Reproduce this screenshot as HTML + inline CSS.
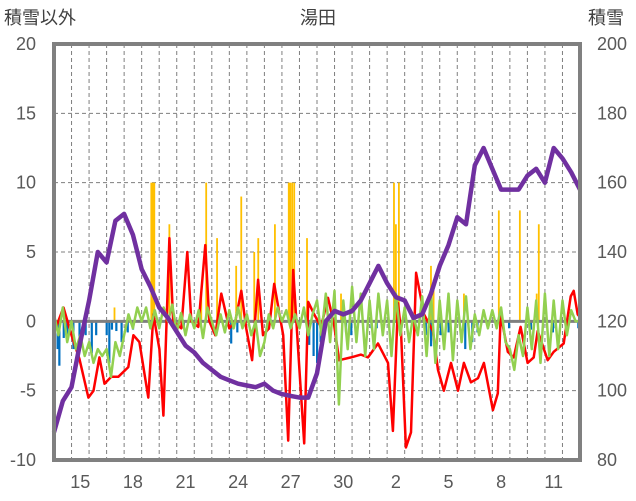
<!DOCTYPE html>
<html><head><meta charset="utf-8">
<style>
html,body{margin:0;padding:0;background:#fff;}
svg{display:block;font-family:"Liberation Sans","Noto Sans CJK JP",sans-serif;}
</style></head>
<body>
<svg id="chart" width="636" height="501" xmlns="http://www.w3.org/2000/svg">
<text x="318" y="24" font-size="18" text-anchor="middle" fill="#404040">湯田</text>
<text x="4" y="24" font-size="18" fill="#404040">積雪以外</text>
<text x="588" y="24" font-size="18" fill="#404040">積雪</text>
<g id="grid"></g><g id="bars"></g><g id="lines"></g><g id="axes"></g>
</svg>
<script>
const xLabels=["15","18","21","24","27","30","2","5","8","11"];
const xLabelDays=[1,4,7,10,13,16,19,22,25,28];
const leftTicks=[20,15,10,5,0,-5,-10];
const rightTicks=[200,180,160,140,120,100,80];
const snowDepth=[88,97,101,114,126,140,137,149,151,145,135,130,124,121,117,113,111,108,106,104,103,102,101.5,101,102,100,99,98.5,98,98,105,120,123,122,123,126,131,136,131,127,126,121,122,128,136,142,150,148,165,170,164,158,158,158,162,164,160,170,167,163,158];
const redT=[0.09,0.54,1.0,1.45,1.96,2.25,2.59,2.88,3.27,3.67,4.24,4.53,4.87,5.38,5.67,6.01,6.24,6.58,6.8,7.26,7.6,7.83,8.23,8.63,8.86,9.2,9.54,10.0,10.34,10.68,10.96,11.3,11.64,11.92,12.26,12.56,13.07,13.36,13.64,13.92,14.27,14.5,14.84,15.23,15.63,15.97,16.26,16.94,17.51,17.91,18.48,19.05,19.33,19.62,19.79,20.07,20.36,20.65,21.1,21.61,21.9,22.24,22.64,23.04,23.38,23.78,24.18,24.52,25.03,25.31,25.48,25.88,26.22,26.61,27.01,27.36,27.59,28.16,28.5,29.07,29.47,29.64,29.87,30];
const redV=[-0.5,1,-1,-2.7,-5.5,-5,-2.6,-4.5,-4,-4,-3.3,-1,-1.5,-5.5,0.5,-2,-6.8,6,0,-0.5,5,0,-0.4,5.5,0,-1,2,-0.5,0,2.2,-0.5,-2.8,3,-1,-0.5,2.7,-1,-8.6,3.7,-2,-8.8,1.4,0.5,-0.4,1.7,-0.2,-2.8,-2.6,-2.4,-2.6,-1.6,-3,-7.9,1.3,-0.7,-9.1,-8,3.5,0.5,-0.7,-3.5,-5,-3,-5,-3,-4.4,-4.1,-3,-6.4,-5.2,0.5,-2.2,-2.6,-0.4,-3,-2.6,-0.7,-2.8,-2.2,-1.6,1.8,2.2,0.5,0.3];
const greenV=[0.5,-1,1,-1.5, 0,-2,-1,-2.5, -1.5,-3,-2,-2.5, -2,-4,-1.5,-2.5, -1,0.5,-0.5,1, 0,1,-0.5,0.8, -0.5,1,0,1.2, -0.8,0.6,-1,0.5, -0.5,0.8,-1.2,1, 0,-1,0.5,-0.8, 0.8,-0.5,1,-0.5, 0.5,-1,0,-2.5, -1.5,0.5,-0.5,1, 0,0.8,-0.5,0.5, -0.5,1,-1,0.5, 1.5,-1,2,-1.5, 2.2,-6,1.5,-2, 2.5,-1.5,2,-2.5, 1.5,-2,2,-1, 1.5,-2.5,2,-1, 1,-1.5,0.5,-1, 1.8,-2.5,2,-3, 1.5,-2,2,-2.8, 1.5,-1.5,1.8,-2, 0.5,-1,0.8,-0.5, 0.8,-0.5,1,-1.5, -2,-3.5,-1,-2.5, 1,-2,1.5,-3, 2,-2.5,1.5,-2, 1.5,-1,0.8,0, 0];
const blueT=[0.2,0.3,0.55,0.75,1.1,1.45,1.8,2.15,2.4,3.0,3.15,3.3,3.55,3.85,4.2,4.5,7.4,10.1,10.45,12.25,14.55,14.8,15.0,15.2,16.65,16.95,18.1,18.4,21.2,21.5,22.05,22.5,23.45,23.85,24.15,25.95,27.2,28.45,28.6,29.9];
const blueV=[-2,-3.2,-1.2,-1.5,-2,-1.5,-1,-2.3,-1,-1,-3,-0.6,-0.7,-1.5,-0.8,-0.6,-0.5,-1.6,-0.8,-0.6,-1.7,-2.5,-3,-1.5,-0.8,-1,-0.5,-0.5,-1,-1.8,-1,-0.8,-2,-1.5,-0.8,-0.5,-0.6,-0.8,-0.5,-0.5];
const orangeT=[3.45,5.55,5.64,5.72,6.58,8.4,8.68,9.3,10.39,10.68,11.42,11.65,12.6,13.39,13.47,13.58,13.7,14.43,16.37,19.39,19.5,19.67,21.5,21.65,23.38,25.37,26.57,27.53,27.65];
const orangeV=[1,10,10,10,7,2,10,6,4,9,5,6,7,10,10,10,10,6,2,10,7,10,4,3,2,8,8,2,7];

const X0=54,X1=580,Y0=44,Y1=460,DAYS=30;
const NS="http://www.w3.org/2000/svg";
function xs(t){return X0+(X1-X0)*t/DAYS;}
function yl(v){return Y1-(v+10)*(Y1-Y0)/30;}
function yr(v){return Y1-(v-80)*(Y1-Y0)/120;}
function mk(tag,attrs,parent){const e=document.createElementNS(NS,tag);for(const k in attrs)e.setAttribute(k,attrs[k]);parent.appendChild(e);return e;}
const grid=document.getElementById('grid'),bars=document.getElementById('bars'),lines=document.getElementById('lines'),axes=document.getElementById('axes');
for(let d=1;d<DAYS;d++){const l=mk('line',{x1:xs(d),x2:xs(d),y1:Y0,y2:Y1,stroke:'#7f7f7f','stroke-width':1,'stroke-dasharray':'4,3'},grid);

}
leftTicks.forEach(v=>{if(v!==0&&v!==20&&v!==-10){const l=mk('line',{x1:X0,x2:X1,y1:yl(v),y2:yl(v),stroke:'#7f7f7f','stroke-width':1,'stroke-dasharray':'4,3'},grid);

}});
orangeT.forEach((t,i)=>{const r=mk('rect',{x:xs(t)-0.9,width:1.8,y:yl(orangeV[i]),height:yl(0)-yl(orangeV[i]),fill:'#ffc000'},bars);

});
blueT.forEach((t,i)=>{const r=mk('rect',{x:xs(t)-1,width:2.2,y:yl(0),height:yl(blueV[i])-yl(0),fill:'#0070c0'},bars);

});
const zl=mk('line',{x1:X0,x2:X1,y1:yl(0),y2:yl(0),stroke:'#7f7f7f','stroke-width':3},bars);


function poly(pts,color,w,name){const p=mk('polyline',{points:pts.map(p=>p[0].toFixed(1)+','+p[1].toFixed(1)).join(' '),fill:'none',stroke:color,'stroke-width':w,'stroke-linejoin':'round'},lines);

}
poly(redT.map((t,i)=>[xs(t),yl(redV[i])]),'#ff0000',2.5,'temperature-line');
poly(greenV.map((v,i)=>[xs(i*0.25),yl(v)]),'#92d050',2.5,'green-series-line');
poly(snowDepth.map((v,i)=>[xs(i*0.5),yr(v)]),'#7030a0',4.5,'snow-depth-line');
const fr=mk('rect',{x:X0,y:Y0,width:X1-X0,height:Y1-Y0,fill:'none',stroke:'#808080','stroke-width':4},axes);


leftTicks.forEach(v=>{const t=mk('text',{x:36,y:yl(v)+6,'font-size':18,'text-anchor':'end',fill:'#595959'},axes);t.textContent=v;

});
rightTicks.forEach(v=>{const t=mk('text',{x:597,y:yr(v)+6,'font-size':18,fill:'#595959'},axes);t.textContent=v;

});
xLabels.forEach((s,i)=>{const t=mk('text',{x:xs(xLabelDays[i]+0.5),y:488,'font-size':18,'text-anchor':'middle',fill:'#595959'},axes);t.textContent=s;

});
</script>
</body></html>
